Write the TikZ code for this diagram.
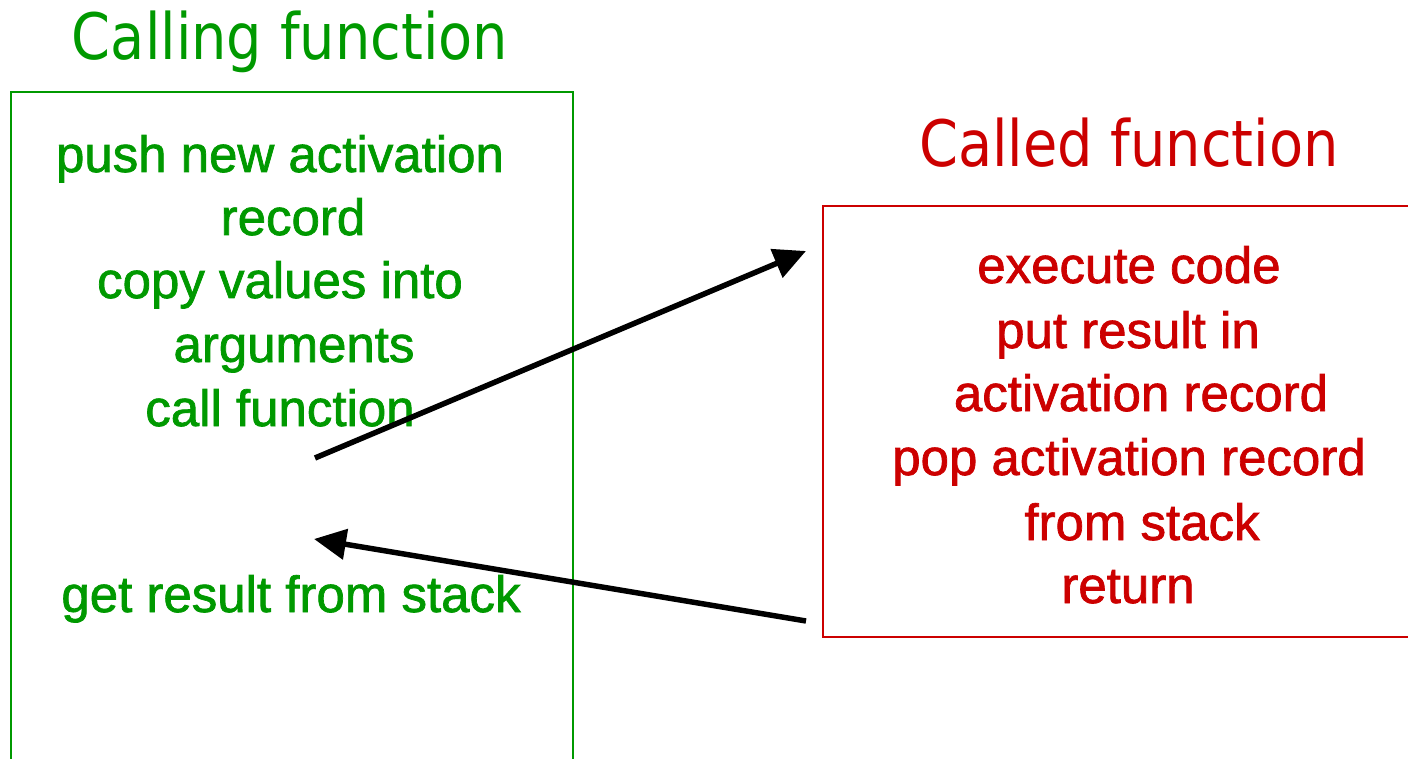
\documentclass[tikz,border=0pt]{standalone}
\usepackage{fontspec}
\setmainfont{Liberation Sans}
\newfontfamily\bodyfont[FakeBold=1.4]{Liberation Sans}
\newfontfamily\titlefont[FakeStretch=0.872]{DejaVu Sans}
\usetikzlibrary{arrows.meta}
\definecolor{cgreen}{RGB}{0,153,0}
\definecolor{cred}{RGB}{204,0,0}
\begin{document}
\begin{tikzpicture}[x=1pt,y=-1pt,
  title/.style={font=\titlefont\fontsize{64}{70}\selectfont, anchor=base, inner sep=0},
  gline/.style={text=cgreen, font=\bodyfont\fontsize{51}{64}\selectfont, anchor=base, inner sep=0},
  rline/.style={text=cred, font=\bodyfont\fontsize{51}{64}\selectfont, anchor=base, inner sep=0},
  frame/.style={draw, line width=1.6pt, inner sep=0, anchor=north west},
  flow/.style={line width=5.5pt, -{Triangle[length=32pt,width=30pt]}}]
\useasboundingbox (0,0) rectangle (1408,759);
% boxes
\node[frame, draw=cgreen, minimum width=562pt, minimum height=700pt] (callerbox) at (10,91) {};
\node[frame, draw=cred, minimum width=600pt, minimum height=431pt] (calleebox) at (822,205) {};
% titles
\node[title, text=cgreen] (t1) at (290,60) {Calling function};
\node[title, text=cred] (t2) at (1129,167) {Called function};
% caller text
\node[gline] (g1) at (280,172) {push new activation};
\node[gline] (g2) at (293,235) {record};
\node[gline] (g3) at (280,298) {copy values into};
\node[gline] (g4) at (294,362) {arguments};
\node[gline] (g5) at (280,426) {call function};
\node[gline] (g6) at (291,612) {get result from stack};
% callee text
\node[rline] (r1) at (1129,283) {execute code};
\node[rline] (r2) at (1128,348) {put result in};
\node[rline] (r3) at (1141,411) {activation record};
\node[rline] (r4) at (1129,475) {pop activation record};
\node[rline] (r5) at (1142,540) {from stack};
\node[rline] (r6) at (1128,603) {return};
% arrows
\coordinate (callout) at (315,458);
\coordinate (callin) at (806,251);
\coordinate (retout) at (806,621);
\coordinate (retin) at (314,539);
\draw[flow] (callout) -- (callin);
\draw[flow] (retout) -- (retin);
\end{tikzpicture}
\end{document}
